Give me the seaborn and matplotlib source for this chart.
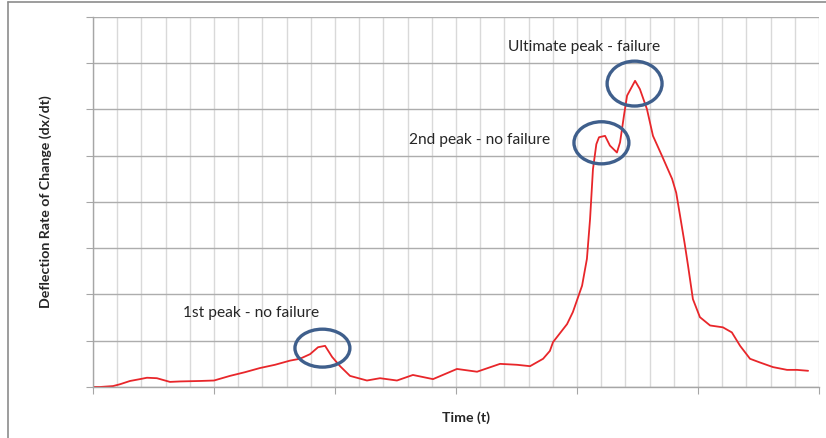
import numpy as np
import pandas as pd
import matplotlib.pyplot as plt
from matplotlib.patches import Ellipse
import seaborn as sns

sns.set_style("white")
plt.rcParams['font.family'] = ['Lato', 'DejaVu Sans']

# Curve (x in grid units 0-30, y in grid units 0-8)
time_t = [0.0, 0.29, 0.83, 1.12, 1.53, 1.94, 2.23, 2.64, 3.18, 3.60, 4.42, 5.0,
          5.66, 6.28, 6.90, 7.52, 8.14, 8.55, 8.97, 9.30, 9.59, 9.88, 10.21, 10.62,
          11.32, 11.86, 12.56, 13.22, 14.05, 15.04, 15.87, 16.82, 17.52, 18.06,
          18.60, 18.88, 19.01, 19.59, 19.83, 20.21, 20.41, 20.54, 20.66, 20.80, 20.91,
          21.16, 21.36, 21.65, 21.78, 21.95, 22.07, 22.40, 22.60, 22.89, 23.14, 23.51,
          23.93, 24.10, 24.26, 24.45, 24.59, 24.79, 25.08, 25.50, 26.03, 26.40, 26.74,
          27.15, 27.56, 28.10, 28.68, 29.09, 29.55]
rate = [0.0, 0.0, 0.02, 0.06, 0.13, 0.17, 0.20, 0.19, 0.11, 0.12, 0.13, 0.14,
        0.24, 0.32, 0.41, 0.48, 0.57, 0.61, 0.71, 0.86, 0.89, 0.65, 0.45, 0.24,
        0.14, 0.19, 0.14, 0.26, 0.17, 0.39, 0.33, 0.50, 0.48, 0.45,
        0.61, 0.78, 0.97, 1.36, 1.62, 2.19, 2.77, 3.63, 4.71, 5.25, 5.40,
        5.43, 5.22, 5.07, 5.29, 5.90, 6.30, 6.62, 6.44, 6.01, 5.43, 5.00,
        4.50, 4.20, 3.70, 3.10, 2.62, 1.90, 1.51, 1.33, 1.29, 1.18, 0.89,
        0.61, 0.53, 0.43, 0.37, 0.37, 0.35]

# Annotations: label, text position, ellipse centre and size
labels = ["1st peak - no failure", "2nd peak - no failure", "Ultimate peak - failure"]
label_xy = [(6.54, 1.62), (15.99, 5.36), (20.31, 7.37)]
circle_xy = [(9.48, 0.84), (21.01, 5.28), (22.38, 6.56)]
circle_wh = [(2.27, 0.82), (2.27, 0.91), (2.27, 0.97)]

df = pd.DataFrame({'Time': time_t, 'Rate': rate})

fig = plt.figure(figsize=(8.26, 4.39), dpi=100)
ax = fig.add_axes([0.1126, 0.1162, 0.8789, 0.8428])

sns.lineplot(data=df, x='Time', y='Rate', ax=ax, color='#E8262A', linewidth=1.3)

ax.set_xlim(0, 30)
ax.set_ylim(0, 8)
ax.set_xticks(np.arange(0, 31, 5))
ax.set_xticks(np.arange(0, 31, 1), minor=True)
ax.set_yticks(np.arange(0, 9, 1))
ax.set_xticklabels([])
ax.set_yticklabels([])
ax.tick_params(axis='x', which='major', length=5, color='#A6A6A6', direction='out', bottom=True)
ax.tick_params(axis='x', which='minor', length=0)
ax.tick_params(axis='y', length=5, color='#A6A6A6', direction='out', left=True)
ax.grid(axis='x', which='both', color='#D9D9D9', linewidth=1.0)
ax.grid(axis='y', which='major', color='#ADADAD', linewidth=1.0)
ax.set_axisbelow(True)
for side in ['top', 'right']:
    ax.spines[side].set_visible(False)
for side in ['left', 'bottom']:
    ax.spines[side].set_color('#A6A6A6')
    ax.spines[side].set_linewidth(1.0)

ax.set_xlabel('')
ax.set_ylabel('')

for lab, (tx, ty), (cx, cy), (w, h) in zip(labels, label_xy, circle_xy, circle_wh):
    ax.text(tx, ty, lab, ha='center', va='center', fontsize=11.2, color='#262626')
    ax.add_patch(Ellipse((cx, cy), w, h, fill=False, edgecolor='#3F5F8C', linewidth=2.4, zorder=5))

fig.text(466 / 826, 1 - 418 / 439, 'Time (t)', ha='center', va='center',
         fontsize=10.2, fontweight='bold', color='#262626')
fig.text(46 / 826, 1 - 202 / 439, 'Deflection Rate of Change (dx/dt)', ha='center', va='center',
         rotation=90, fontsize=10.2, fontweight='bold', color='#262626')

# outer chart frame
fig.add_artist(plt.Line2D([8 / 826, 8 / 826], [0, 1 - 3 / 439], transform=fig.transFigure,
                          color='#8C8C8C', linewidth=1.2))
fig.add_artist(plt.Line2D([8 / 826, 1], [1 - 3 / 439, 1 - 3 / 439], transform=fig.transFigure,
                          color='#8C8C8C', linewidth=1.2))

fig.savefig('out.png', dpi=100)
